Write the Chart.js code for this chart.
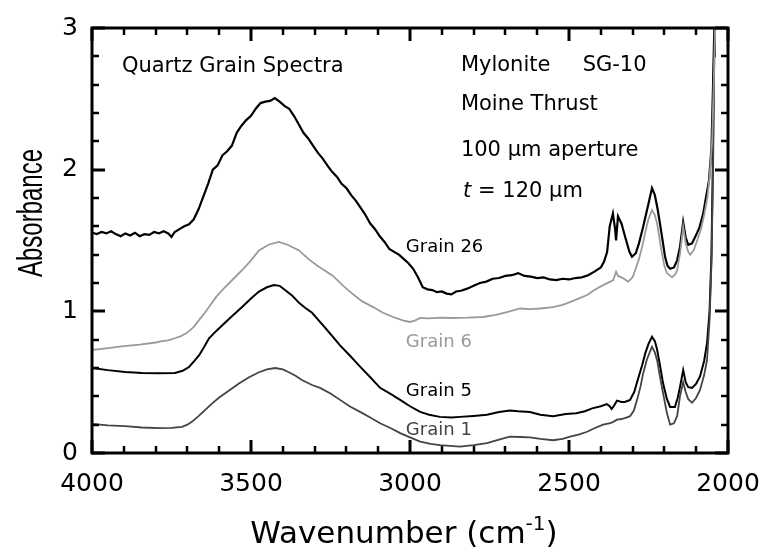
<!DOCTYPE html>
<html>
<head>
<meta charset="utf-8">
<script src="https://cdn.jsdelivr.net/npm/chart.js@4"></script>
<style>
  body { margin: 0; background: #fff; }
  canvas { display: block; }
</style>
</head>
<body>
<canvas id="spectra" width="762" height="560"></canvas>
<script>
// wavenumber (cm-1) / absorbance pairs
const g26Wn = [4000,3985,3970,3955,3940,3925,3910,3895,3880,3865,3850,3835,3820,3805,3790,3775,3760,3750,3740,3725,3710,3695,3680,3665,3650,3635,3620,3605,3590,3575,3560,3545,3530,3515,3500,3485,3470,3455,3440,3425,3410,3395,3380,3365,3350,3335,3320,3305,3290,3275,3260,3245,3230,3215,3200,3185,3170,3155,3140,3125,3110,3095,3080,3065,3050,3035,3020,3005,2990,2975,2960,2945,2930,2915,2900,2885,2870,2855,2840,2820,2800,2780,2760,2740,2720,2700,2680,2660,2640,2620,2600,2580,2560,2540,2520,2500,2480,2460,2440,2420,2400,2390,2380,2372,2362,2355,2352,2346,2335,2324,2310,2302,2290,2280,2267,2251,2239,2230,2222,2214,2205,2198,2190,2182,2170,2160,2151,2141,2133,2125,2113,2100,2090,2078,2068,2060,2052,2047,2042,2036];
const g26Abs = [1.555,1.545,1.56,1.55,1.565,1.545,1.53,1.55,1.535,1.555,1.53,1.545,1.54,1.56,1.55,1.565,1.55,1.525,1.56,1.58,1.60,1.615,1.65,1.72,1.81,1.90,2.00,2.03,2.10,2.13,2.17,2.26,2.31,2.35,2.38,2.43,2.47,2.48,2.485,2.505,2.48,2.45,2.43,2.38,2.32,2.26,2.22,2.17,2.12,2.08,2.03,1.985,1.95,1.90,1.87,1.82,1.78,1.73,1.68,1.62,1.58,1.53,1.49,1.44,1.42,1.40,1.37,1.34,1.30,1.24,1.17,1.155,1.15,1.135,1.14,1.125,1.12,1.14,1.145,1.16,1.18,1.20,1.21,1.23,1.235,1.25,1.255,1.27,1.25,1.245,1.235,1.24,1.225,1.22,1.23,1.225,1.235,1.24,1.255,1.28,1.31,1.35,1.42,1.60,1.69,1.58,1.50,1.67,1.62,1.53,1.42,1.385,1.41,1.48,1.595,1.75,1.87,1.82,1.73,1.62,1.49,1.385,1.32,1.30,1.31,1.36,1.455,1.63,1.52,1.47,1.48,1.54,1.59,1.69,1.82,1.92,2.15,2.6,3.1,3.6];

const g6Wn = [4000,3950,3900,3850,3800,3780,3760,3740,3720,3700,3680,3663,3645,3632,3610,3582,3555,3528,3500,3475,3445,3412,3385,3349,3320,3290,3242,3210,3179,3150,3116,3085,3053,3020,3000,2985,2968,2940,2900,2874,2820,2770,2730,2695,2654,2623,2590,2550,2520,2497,2470,2443,2420,2393,2370,2361,2352,2346,2335,2314,2300,2292,2280,2270,2260,2251,2239,2230,2223,2215,2208,2200,2192,2176,2166,2160,2150,2141,2133,2125,2119,2108,2097,2085,2075,2065,2058,2050,2045,2040,2035];
const g6Abs = [0.727,0.74,0.755,0.765,0.78,0.79,0.795,0.81,0.825,0.85,0.89,0.94,0.99,1.03,1.10,1.17,1.23,1.29,1.36,1.43,1.47,1.49,1.47,1.43,1.37,1.32,1.25,1.18,1.12,1.07,1.03,0.99,0.96,0.935,0.925,0.935,0.953,0.95,0.955,0.953,0.955,0.96,0.975,0.995,1.02,1.015,1.02,1.03,1.045,1.065,1.09,1.115,1.15,1.185,1.21,1.22,1.28,1.25,1.24,1.21,1.24,1.29,1.37,1.455,1.56,1.645,1.715,1.68,1.62,1.51,1.41,1.32,1.27,1.24,1.26,1.29,1.42,1.60,1.48,1.42,1.40,1.43,1.50,1.58,1.68,1.80,1.95,2.2,2.6,3.0,3.5];

const g5Wn = [4000,3950,3896,3843,3790,3739,3715,3695,3680,3663,3647,3632,3610,3591,3560,3528,3500,3475,3450,3428,3410,3393,3370,3349,3330,3308,3283,3250,3220,3190,3157,3125,3094,3060,3031,3000,2968,2940,2906,2870,2843,2800,2758,2720,2686,2660,2623,2590,2550,2510,2477,2450,2427,2400,2381,2372,2366,2358,2349,2335,2324,2308,2295,2282,2270,2260,2250,2239,2230,2223,2214,2204,2192,2182,2167,2158,2151,2141,2133,2125,2113,2100,2088,2075,2066,2058,2052,2048,2044,2041];
const g5Abs = [0.60,0.585,0.572,0.565,0.563,0.565,0.58,0.607,0.645,0.69,0.75,0.81,0.86,0.90,0.965,1.03,1.09,1.14,1.17,1.185,1.18,1.15,1.11,1.06,1.025,0.99,0.925,0.84,0.76,0.69,0.61,0.535,0.46,0.415,0.375,0.33,0.29,0.27,0.255,0.25,0.255,0.262,0.27,0.29,0.30,0.295,0.29,0.27,0.26,0.275,0.28,0.295,0.315,0.33,0.345,0.33,0.31,0.335,0.37,0.36,0.36,0.375,0.43,0.53,0.62,0.705,0.77,0.82,0.79,0.73,0.62,0.49,0.38,0.325,0.325,0.39,0.465,0.585,0.50,0.465,0.46,0.49,0.54,0.65,0.775,1.0,1.4,2.0,2.8,3.5];

const g1Wn = [4000,3950,3896,3843,3789,3750,3717,3700,3686,3665,3644,3622,3601,3570,3538,3506,3475,3450,3424,3400,3381,3360,3340,3308,3283,3250,3220,3190,3157,3125,3094,3060,3031,3000,2968,2935,2906,2875,2843,2800,2758,2720,2686,2654,2623,2590,2550,2520,2497,2470,2443,2420,2393,2370,2361,2349,2335,2320,2308,2296,2286,2275,2267,2255,2239,2230,2223,2214,2204,2192,2182,2170,2160,2151,2141,2133,2125,2113,2100,2088,2075,2066,2058,2052,2047,2043,2040];
const g1Abs = [0.205,0.195,0.19,0.18,0.175,0.178,0.185,0.20,0.22,0.26,0.305,0.35,0.39,0.44,0.49,0.535,0.57,0.59,0.60,0.59,0.57,0.545,0.515,0.48,0.46,0.42,0.375,0.33,0.29,0.25,0.21,0.175,0.14,0.11,0.08,0.065,0.055,0.05,0.045,0.055,0.07,0.095,0.115,0.113,0.11,0.10,0.09,0.10,0.115,0.13,0.15,0.175,0.20,0.21,0.22,0.235,0.24,0.25,0.26,0.30,0.375,0.47,0.56,0.66,0.75,0.71,0.655,0.54,0.42,0.28,0.20,0.21,0.26,0.40,0.50,0.43,0.38,0.355,0.39,0.445,0.55,0.655,0.94,1.34,2.0,2.8,3.5];

const xTicks = [4000, 3500, 3000, 2500, 2000];
const yTicks = [0, 1, 2, 3];

// text placed in data units (wavenumber, absorbance of baseline)
const notes = [
  { text: 'Quartz Grain Spectra', wn: 3906, abs: 2.69, size: 21, color: '#000' },
  { text: 'Mylonite', wn: 2840, abs: 2.70, size: 21, color: '#000' },
  { text: 'SG-10', wn: 2457, abs: 2.70, size: 21, color: '#000' },
  { text: 'Moine Thrust', wn: 2840, abs: 2.42, size: 21, color: '#000' },
  { text: '100 μm aperture', wn: 2840, abs: 2.10, size: 21, color: '#000' },
  { text: 'Grain 26', wn: 3013, abs: 1.42, size: 18, color: '#000' },
  { text: 'Grain 6', wn: 3013, abs: 0.75, size: 18, color: '#999' },
  { text: 'Grain 5', wn: 3013, abs: 0.40, size: 18, color: '#000' },
  { text: 'Grain 1', wn: 3013, abs: 0.13, size: 18, color: '#444' }
];

const FONT = '"DejaVu Sans", Verdana, sans-serif';

function pairs(xs, ys) {
  return xs.map((x, i) => ({ x: x, y: ys[i] }));
}

const framePlugin = {
  id: 'frame',
  afterDraw(chart) {
    const ctx = chart.ctx;
    const a = chart.chartArea;
    const xs = chart.scales.x, ys = chart.scales.y;
    ctx.save();
    ctx.strokeStyle = '#000';
    ctx.lineCap = 'butt';

    // inward ticks on all four sides
    for (let v = 2000; v <= 4000; v += 100) {
      const px = Math.round(xs.getPixelForValue(v));
      const len = v % 500 === 0 ? 13 : 7;
      ctx.lineWidth = v % 500 === 0 ? 3 : 2.5;
      ctx.beginPath();
      ctx.moveTo(px, a.bottom); ctx.lineTo(px, a.bottom - len);
      ctx.moveTo(px, a.top); ctx.lineTo(px, a.top + len);
      ctx.stroke();
    }
    for (let i = 0; i <= 15; i++) {
      const v = i * 0.2;
      const py = Math.round(ys.getPixelForValue(v));
      const major = i % 5 === 0;
      const len = major ? 13 : 7;
      ctx.lineWidth = major ? 3 : 2.5;
      ctx.beginPath();
      ctx.moveTo(a.left, py); ctx.lineTo(a.left + len, py);
      ctx.moveTo(a.right, py); ctx.lineTo(a.right - len, py);
      ctx.stroke();
    }
    ctx.lineWidth = 3;
    ctx.strokeRect(a.left, a.top, a.right - a.left, a.bottom - a.top);

    // annotations
    ctx.textBaseline = 'alphabetic';
    ctx.textAlign = 'left';
    notes.forEach(n => {
      ctx.font = n.size + 'px ' + FONT;
      ctx.fillStyle = n.color;
      ctx.fillText(n.text, xs.getPixelForValue(n.wn), ys.getPixelForValue(n.abs));
    });
    // t = 120 μm, with italic t
    let tx = xs.getPixelForValue(2833);
    const ty = ys.getPixelForValue(1.81);
    ctx.fillStyle = '#000';
    ctx.font = 'italic 21px ' + FONT;
    ctx.fillText('t', tx, ty);
    tx += ctx.measureText('t').width;
    ctx.font = '21px ' + FONT;
    ctx.fillText(' = 120 μm', tx, ty);

    // y title: condensed sans, squeezed to the reference length
    ctx.save();
    ctx.translate(42, 213);
    ctx.rotate(-Math.PI / 2);
    ctx.font = '35px "Liberation Sans", Arial, sans-serif';
    const wAbs = ctx.measureText('Absorbance').width;
    ctx.scale(128 / wAbs, 1);
    ctx.textAlign = 'center';
    ctx.fillText('Absorbance', 0, 0);
    ctx.restore();

    // x title with superscript
    const main = 'Wavenumber (cm';
    ctx.font = '31px ' + FONT;
    const wMain = ctx.measureText(main).width;
    const wClose = ctx.measureText(')').width;
    ctx.font = '20px ' + FONT;
    const wSup = ctx.measureText('-1').width;
    let x0 = 404 - (wMain + wSup + wClose) / 2;
    ctx.font = '31px ' + FONT;
    ctx.fillText(main, x0, 543);
    x0 += wMain;
    ctx.font = '20px ' + FONT;
    ctx.fillText('-1', x0, 530);
    x0 += wSup;
    ctx.font = '31px ' + FONT;
    ctx.fillText(')', x0, 543);
    ctx.restore();
  }
};

const line = (data, color, width) => ({
  data: data,
  borderColor: color,
  borderWidth: width,
  pointRadius: 0,
  tension: 0,
  fill: false
});

new Chart(document.getElementById('spectra'), {
  type: 'line',
  data: {
    datasets: [
      line(pairs(g6Wn, g6Abs), '#9a9a9a', 1.8),
      line(pairs(g1Wn, g1Abs), '#444444', 1.8),
      line(pairs(g5Wn, g5Abs), '#000000', 2),
      line(pairs(g26Wn, g26Abs), '#000000', 2.2)
    ]
  },
  options: {
    responsive: false,
    animation: false,
    layout: { padding: { top: 28, right: 34, left: 0, bottom: 0 } },
    plugins: { legend: { display: false }, tooltip: { enabled: false } },
    scales: {
      x: {
        type: 'linear',
        reverse: true,
        min: 2000,
        max: 4000,
        grid: { display: false, drawTicks: false },
        border: { display: false },
        afterBuildTicks: s => { s.ticks = xTicks.map(v => ({ value: v })); },
        afterFit: s => { s.height = 107; s.paddingLeft = 0; s.paddingRight = 0; },
        ticks: { color: '#000', padding: 16, maxRotation: 0, autoSkip: false, callback: v => String(v), font: { family: FONT, size: 25 } }
      },
      y: {
        min: 0,
        max: 3,
        grid: { display: false, drawTicks: false },
        border: { display: false },
        afterBuildTicks: s => { s.ticks = yTicks.map(v => ({ value: v })); },
        afterFit: s => { s.width = 92; s.paddingTop = 0; s.paddingBottom = 0; },
        ticks: { color: '#000', padding: 14, callback: v => String(v), font: { family: FONT, size: 25 } }
      }
    }
  },
  plugins: [framePlugin]
});
</script>
</body>
</html>
